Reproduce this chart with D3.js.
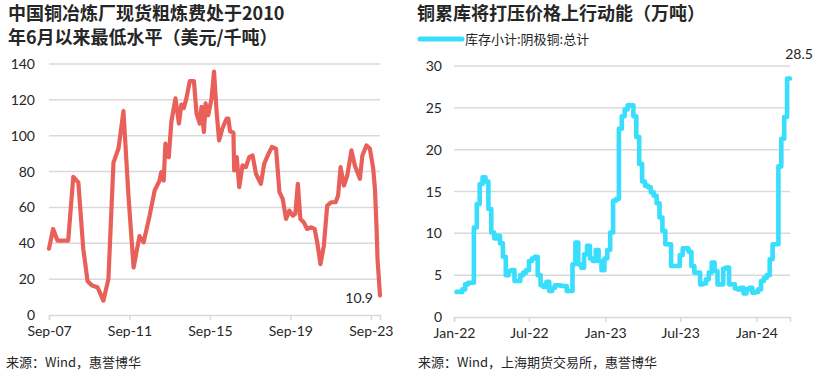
<!DOCTYPE html>
<html><head><meta charset="utf-8">
<script src="https://cdn.jsdelivr.net/npm/d3@7"></script>
<style>
body{margin:0;background:#fff;}
svg{display:block;}
</style></head>
<body>
<svg id="chart" width="816" height="383"></svg>
<script>
// ---------- Left chart data: China copper smelter spot TC (USD/t) ----------
const tcDates = ["2007-09-01","2007-11-15","2008-02-01","2008-08-15","2008-11-15","2009-02-15","2009-05-15","2009-08-01","2009-10-15","2010-02-01","2010-05-15","2010-08-15","2010-11-15","2011-02-15","2011-05-15","2011-08-15","2011-11-15","2012-03-01","2012-05-15","2012-09-01","2012-12-01","2013-03-01","2013-04-01","2013-05-15","2013-06-15","2013-08-15","2013-10-01","2013-12-15","2014-02-15","2014-04-01","2014-05-15","2014-07-01","2014-09-01","2014-11-15","2015-01-01","2015-03-01","2015-04-01","2015-05-15","2015-06-15","2015-08-01","2015-10-01","2015-11-15","2016-01-01","2016-02-15","2016-04-15","2016-07-01","2016-08-01","2016-09-01","2016-11-01","2016-11-15","2017-01-01","2017-02-15","2017-04-15","2017-06-15","2017-08-15","2017-10-15","2017-12-15","2018-03-15","2018-05-15","2018-08-01","2018-10-01","2018-12-15","2019-02-15","2019-04-15","2019-06-15","2019-08-15","2019-10-15","2019-12-01","2020-01-15","2020-03-01","2020-05-01","2020-07-01","2020-09-15","2020-11-15","2021-01-01","2021-03-01","2021-05-01","2021-07-01","2021-09-15","2021-12-01","2022-01-15","2022-03-01","2022-05-01","2022-07-01","2022-09-15","2022-11-15","2023-02-15","2023-04-01","2023-06-15","2023-08-15","2023-10-15","2023-11-15","2023-12-15","2024-01-01","2024-02-15"];
const tcValues = [37,48,41.5,41.5,77,74,37,19,16.6,15.3,8,20,85,93,113.7,66,26.5,44,40.5,55.4,69.4,75,79.7,75,95.6,88,107.7,120.8,106.8,117.4,115.5,120.8,130.5,130.5,112.4,106.8,116.1,102.1,118,111.4,120.8,135.7,113.3,97.4,104,109.6,109.6,102.5,101.7,80.6,88.1,71.3,83.4,82.5,88.1,89,78.8,73.2,84.4,90,93.7,92.8,68.5,64.8,53.6,58.2,55.4,56.4,73.2,53.6,51.7,48,48.9,48,40.5,28.4,38.6,61,62.9,62.9,66.6,82.5,72.2,77.8,91.8,83.4,76,89,94.6,92.8,81.6,70.4,48,31.2,10.9];
const tcTicks = ["2007-09-01","2011-09-01","2015-09-01","2019-09-01","2023-09-01"];
const tcYTicks = [0,20,40,60,80,100,120,140];
const tcTitle = ["中国铜冶炼厂现货粗炼费处于2010","年6月以来最低水平（美元/千吨）"];
const tcSource = "来源：Wind，惠誉博华";
const tcLastLabel = "10.9";

// ---------- Right chart data: SHFE cathode copper stocks (10k t), weekly ----------
const stockStart = "2022-01-07";
const stockValues = [3.0,3.0,3.3,3.9,4.1,4.1,10.7,13.5,15.9,16.7,16.2,12.9,10.1,9.4,9.7,8.8,7.2,5.0,5.5,5.6,4.3,4.3,5.0,5.3,5.6,6.7,7.0,7.2,5.0,3.8,3.6,4.2,3.1,3.5,3.8,3.8,3.7,3.7,3.1,3.1,6.3,8.9,6.3,5.9,7.5,8.5,7.0,6.7,8.0,6.7,5.6,7.0,8.0,10.1,13.9,14.1,22.5,24.0,24.8,25.3,25.3,24.0,21.5,18.3,16.2,15.7,15.5,14.9,14.5,13.6,11.9,10.3,8.7,8.7,6.1,6.1,6.1,7.4,8.2,8.2,7.8,6.1,5.3,5.3,3.9,4.0,4.5,5.3,6.5,5.5,3.9,3.9,5.8,5.9,3.9,3.9,3.4,3.3,3.5,2.8,3.3,3.5,2.9,3.0,3.3,4.3,4.7,5.0,6.9,8.7,8.7,18.0,21.3,23.9,28.5,28.5];
const stockTicks = ["2022-01-01","2022-07-01","2023-01-01","2023-07-01","2024-01-01"];
const stockYTicks = [0,5,10,15,20,25,30];
const stockTitle = "铜累库将打压价格上行动能（万吨）";
const stockLegend = "库存小计:阴极铜:总计";
const stockSource = "来源：Wind，上海期货交易所，惠誉博华";
const stockLastLabel = "28.5";

const parse = d3.timeParse("%Y-%m-%d");
const fmt = d3.timeFormat("%b-%y");
const NUM = "Lato, 'Liberation Sans', sans-serif";
const CJK = "'Noto Sans CJK SC', 'Noto Sans', sans-serif";
const TXT = "#262626";
const GRID = "#d9d9d9";

const svg = d3.select("#chart");

function drawPanel(opt){
  const g = svg.append("g");
  const x = d3.scaleTime().domain(opt.xDomain).range([opt.x0, opt.x1]);
  const y = d3.scaleLinear().domain([opt.yTicks[0], opt.yTicks[opt.yTicks.length-1]]).range([opt.y0, opt.y1]);

  // gridlines
  g.append("g").selectAll("line").data(opt.yTicks.filter(v=>v>0)).join("line")
    .attr("x1", opt.x0).attr("x2", opt.x1)
    .attr("y1", d=>y(d)).attr("y2", d=>y(d))
    .attr("stroke", GRID).attr("stroke-width", 1.5);

  // y labels
  g.append("g").selectAll("text").data(opt.yTicks).join("text")
    .attr("x", opt.x0 - opt.yLabelGap).attr("y", d=>y(d)).attr("dy", "0.36em")
    .attr("text-anchor", "end").attr("font-family", NUM).attr("font-size", 14)
    .attr("fill", TXT).text(d=>d);

  // x axis
  const xa = d3.axisBottom(x).tickValues(opt.xTicks).tickFormat(fmt).tickSize(5).tickPadding(6);
  const ax = g.append("g").attr("transform", `translate(0,${opt.y0})`).call(xa);
  ax.select(".domain").attr("stroke", GRID).attr("stroke-width", 1.5);
  ax.selectAll(".tick line").attr("stroke", GRID).attr("stroke-width", 1.5);
  ax.selectAll(".tick text").attr("font-family", NUM).attr("font-size", 14).attr("fill", TXT);

  // line
  const line = d3.line().x(d=>x(d.date)).y(d=>y(d.value));
  if (opt.curve) line.curve(opt.curve);
  g.append("path").datum(opt.data)
    .attr("fill", "none").attr("stroke", opt.color).attr("stroke-width", opt.lineWidth)
    .attr("stroke-linejoin", "round").attr("stroke-linecap", "round")
    .attr("d", line);

  const last = opt.data[opt.data.length-1];
  g.append("text")
    .attr("x", x(last.date) + opt.labelDx).attr("y", y(last.value) + opt.labelDy)
    .attr("text-anchor", opt.labelAnchor)
    .attr("font-family", NUM).attr("font-size", 14).attr("fill", TXT)
    .text(opt.lastLabel);
  return {x, y};
}

// Left panel
const tcData = tcDates.map((d,i)=>({date: parse(d), value: tcValues[i]}));
drawPanel({
  data: tcData,
  xDomain: [parse(tcDates[0]), parse(tcDates[tcDates.length-1])],
  xTicks: tcTicks.map(parse),
  yTicks: tcYTicks,
  x0: 49, x1: 380, y0: 315, y1: 64,
  yLabelGap: 14,
  color: "#E9605A", lineWidth: 4.2,
  lastLabel: tcLastLabel, labelDx: -7, labelDy: 8, labelAnchor: "end"
});

// Right panel
const startDate = parse(stockStart);
const stockData = stockValues.map((v,i)=>({date: d3.timeDay.offset(startDate, 7*i), value: v}));
drawPanel({
  data: stockData,
  xDomain: [parse("2022-01-01"), stockData[stockData.length-1].date],
  xTicks: stockTicks.map(parse),
  yTicks: stockYTicks,
  x0: 454, x1: 790, y0: 317, y1: 66,
  yLabelGap: 12,
  color: "#38DEFC", lineWidth: 4.6, curve: d3.curveStepAfter,
  lastLabel: stockLastLabel, labelDx: 9, labelDy: -20, labelAnchor: "middle"
});

// Titles
svg.append("g").selectAll("text").data(tcTitle).join("text")
  .attr("x", 8).attr("y", (d,i)=>20 + i*24)
  .attr("font-family", CJK).attr("font-weight", "bold").attr("font-size", 18)
  .attr("fill", TXT).text(d=>d);
svg.append("text").attr("x", 417).attr("y", 20)
  .attr("font-family", CJK).attr("font-weight", "bold").attr("font-size", 18)
  .attr("fill", TXT).text(stockTitle);

// Legend
svg.append("line").attr("x1", 420).attr("x2", 462).attr("y1", 39).attr("y2", 39)
  .attr("stroke", "#38DEFC").attr("stroke-width", 5).attr("stroke-linecap", "round");
svg.append("text").attr("x", 465).attr("y", 39).attr("dy", "0.36em")
  .attr("font-family", CJK).attr("font-size", 13).attr("fill", TXT).text(stockLegend);

// Sources
svg.append("text").attr("x", 6).attr("y", 367)
  .attr("font-family", CJK).attr("font-size", 13).attr("fill", TXT).text(tcSource);
svg.append("text").attr("x", 418).attr("y", 367)
  .attr("font-family", CJK).attr("font-size", 13).attr("fill", TXT).text(stockSource);
</script>
</body></html>
